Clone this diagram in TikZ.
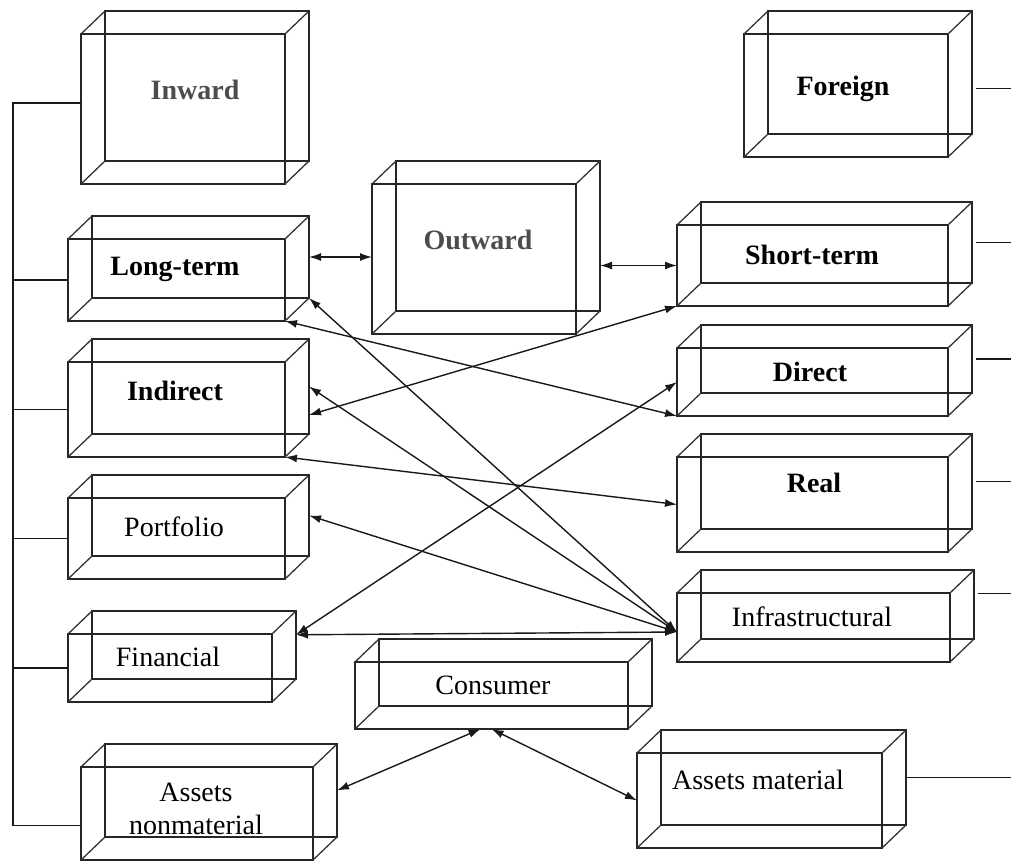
\documentclass[tikz,border=0pt]{standalone}
\usepackage{fontspec}
\setmainfont{Liberation Serif}
\usetikzlibrary{arrows.meta,calc}

% one box: name, left, top, right, bottom of its front face
\newcommand{\cubebox}[5]{%
  \node[face, minimum width={(#4-#2)*1pt}, minimum height={(#5-#3)*1pt}] (#1) at ({(#2+#4)/2},{(#3+#5)/2}) {};
  \node[face, minimum width={(#4-#2)*1pt}, minimum height={(#5-#3)*1pt}] (#1-b) at ({(#2+#4)/2+24},{(#3+#5)/2-23}) {};
  \foreach \k in {north west,north east,south west,south east}
    \draw[edge] (#1.\k) -- (#1-b.\k);
}

\begin{document}
\begin{tikzpicture}[x=1pt,y=-1pt,
    face/.style={draw=black!85, line width=1.6pt, inner sep=0pt, outer sep=0pt},
    edge/.style={draw=black!80, line width=1.3pt},
    link/.style={{Latex[length=12pt,width=8pt]}-{Latex[length=12pt,width=8pt]}, line width=1.4pt, black!90},
    stub/.style={line width=1.6pt, black!90},
    boldtext/.style={font=\fontsize{28}{30}\selectfont\bfseries},
    plaintext/.style={font=\fontsize{28}{33}\selectfont, align=center}]
  \useasboundingbox (0,0) rectangle (1011,862);

  % boxes
  \cubebox{iw}{81}{34}{285}{184}
  \cubebox{lt}{68}{239}{285}{321}
  \cubebox{ow}{372}{184}{576}{334}
  \cubebox{fg}{744}{34}{948}{157}
  \cubebox{st}{677}{225}{948}{306}
  \cubebox{ind}{68}{362}{285}{457}
  \cubebox{dr}{677}{348}{948}{416}
  \cubebox{pf}{68}{498}{285}{579}
  \cubebox{rl}{677}{457}{948}{552}
  \cubebox{fn}{68}{634}{272}{702}
  \cubebox{inf}{677}{593}{950}{662}
  \cubebox{cs}{355}{662}{628}{729}
  \cubebox{an}{81}{767}{313}{860}
  \cubebox{am}{637}{753}{882}{848}

  % texts
  \node[boldtext, text=black!70] (iw-t) at (195,90) {Inward};
  \node[boldtext, text=black!70] (ow-t) at (478,240) {Outward};
  \node[boldtext] (fg-t) at (843,89) {Foreign};
  \node[boldtext] (lt-t) at (175,269) {Long-term};
  \node[boldtext] (st-t) at (812,255) {Short-term};
  \node[boldtext] (ind-t) at (175,391) {Indirect};
  \node[boldtext] (dr-t) at (810,372) {Direct};
  \node[boldtext] (rl-t) at (814,483) {Real};
  \node[plaintext] (pf-t) at (174,527) {Portfolio};
  \node[plaintext] (fn-t) at (168,657) {Financial};
  \node[plaintext] (inf-t) at (812,617) {Infrastructural};
  \node[plaintext] (cs-t) at (493,685) {Consumer};
  \node[plaintext] (am-t) at (758,780) {Assets material};
  \node[plaintext] (an-t) at (196,809) {Assets\\nonmaterial};

  % left trunk
  \coordinate (trunk) at (13,0);
  \coordinate (iw-s) at ([yshift=6pt]iw.west);
  \coordinate (an-s) at ([yshift=-12pt]an.west);
  \draw[stub] (iw-s) -- (iw-s -| trunk) -- (an-s -| trunk) -- (an-s);
  \foreach \b in {lt,ind,pf,fn}
    \draw[stub] (\b.west) -- (\b.west -| trunk);

  % right stubs
  \coordinate (rim) at (1011,0);
  \coordinate (fg-s) at ([xshift=4pt,yshift=-16pt]fg-b.east);
  \coordinate (inf-s) at ([xshift=4pt,yshift=11pt]inf-b.east);
  \draw[stub] (fg-s) -- (fg-s -| rim);
  \draw[stub] (inf-s) -- (inf-s -| rim);
  \foreach \b in {st,dr,rl}
    \draw[stub] ([xshift=4pt]\b-b.east) -- (\b-b.east -| rim);
  \draw[stub] (am-b.east) -- (am-b.east -| rim);

  % links
  \coordinate (hub) at ([yshift=-4.5pt]inf.west);
  \coordinate (fn-e) at ($(fn-b.north east)!0.35!(fn-b.south east)$);
  \coordinate (ind-e) at ($(ind-b.north east)!0.8!(ind-b.south east)$);
  \draw[link] (lt-b.east) -- (lt-b.east -| ow.west);
  \draw[link] (ow-b.east |- st.west) -- (st.west);
  \draw[link] (lt-b.south east) -- (hub);
  \draw[link] (lt.south east) -- (dr.south west);
  \draw[link] (ind-e) -- (st.south west);
  \draw[link] (ind-b.east) -- (hub);
  \draw[link] (ind.south east) -- (rl.west);
  \draw[link] (fn-e) -- (dr.west);
  \draw[link] (pf-b.east) -- (hub);
  \draw[link] (fn-e) -- (hub);
  \draw[link] ($(cs.south west)!0.46!(cs.south east)$) -- (an-b.east);
  \draw[link] (cs.south) -- (am.west);
\end{tikzpicture}
\end{document}
